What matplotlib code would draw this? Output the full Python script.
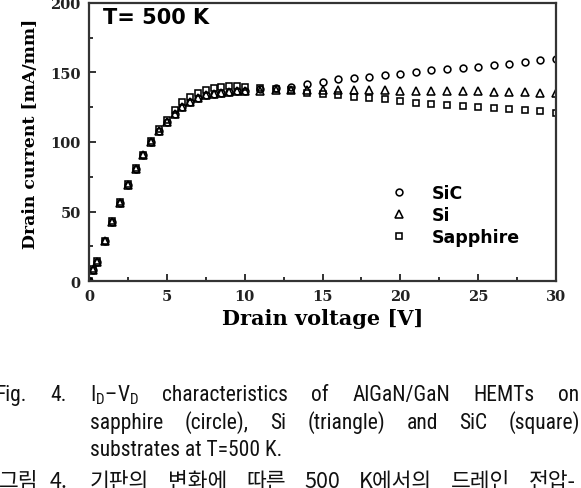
import matplotlib
matplotlib.use("Agg")
import matplotlib.pyplot as plt
from matplotlib import font_manager
from matplotlib.transforms import IdentityTransform

# ---------------- data ----------------
voltage = [0, 0.25, 0.5, 1.0, 1.5, 2.0, 2.5, 3.0, 3.5, 4.0, 4.5, 5.0, 5.5, 6.0,
           6.5, 7.0, 7.5, 8.0, 8.5, 9.0, 9.5, 10.0,
           11, 12, 13, 14, 15, 16, 17, 18, 19, 20, 21, 22, 23, 24, 25, 26, 27,
           28, 29, 30]
sic = [0, 8, 14, 28.5, 42.5, 56, 69, 80.5, 90.5, 100, 108, 114.5, 120.5, 125.5,
       129, 131.5, 133.5, 134.5, 135.5, 136, 136.5, 137,
       137.8, 138.5, 139.5, 141.5, 143, 145, 146, 147, 148, 149, 150.2, 151.5,
       152.7, 153.4, 154.2, 155.3, 156.4, 157.6, 158.7, 160]
si = [0, 8, 14, 28.5, 42.5, 56, 69, 80.5, 90.5, 100, 108, 114.5, 120.5, 125.5,
      129, 131.5, 133.5, 134.5, 135.5, 136, 136.5, 136.8,
      137, 137.2, 137.3, 137.5, 137.5, 137.3, 137.4, 137.3, 137.2, 137, 137,
      137, 136.8, 136.6, 136.4, 136.2, 136, 135.8, 135.6, 135.5]
sapphire = [0, 8.5, 14.5, 29, 43, 56.5, 69.5, 81, 91, 100.5, 109, 116, 123,
            128.5, 132.5, 135.5, 137.5, 139, 139.5, 140, 140, 139.5,
            138.5, 138, 137.5, 135.5, 134.5, 133.8, 132.7, 132, 130.7, 129.3,
            128.4, 127.6, 126.7, 126, 125.5, 124.3, 123.6, 122.8, 122.3, 121.2]
series_labels = ["SiC", "Si", "Sapphire"]
x_ticks = [0, 5, 10, 15, 20, 25, 30]
y_ticks = [0, 50, 100, 150, 200]
x_label = "Drain voltage [V]"
y_label = "Drain current [mA/mm]"
temp_label = "T= 500 K"

caption_line1 = [r"I$_{\mathrm{D}}$–V$_{\mathrm{D}}$", "characteristics", "of",
                 "AlGaN/GaN", "HEMTs", "on"]
caption_line2 = ["sapphire", "(circle),", "Si", "(triangle)", "and", "SiC",
                 "(square)"]
caption_line3 = "substrates at T=500 K."
caption_kr = ["기판의", "변화에", "따른", "500", "K에서의", "드레인", "전압-"]

# ---------------- fonts ----------------
names = {f.name for f in font_manager.fontManager.ttflist}
narrow = "Liberation Sans"
for cand in ["Liberation Sans Narrow", "Arial Narrow", "Roboto Condensed",
             "Open Sans Condensed", "Noto Sans Condensed"]:
    if cand in names:
        narrow = cand
        break
plt.rcParams["mathtext.fontset"] = "custom"
plt.rcParams["mathtext.rm"] = narrow
plt.rcParams["mathtext.it"] = narrow

W, H = 581, 489
fig = plt.figure(figsize=(W / 100, H / 100), dpi=100)
ax = fig.add_axes([89 / W, 1 - 282 / H, (556 - 89) / W, (282 - 4) / H])

mk = dict(linestyle="none", mfc="none", mec="black", mew=1.15)
ax.plot(voltage, sic, marker="o", ms=4.9, label=series_labels[0], **mk)
ax.plot(voltage, si, marker="^", ms=6.0, label=series_labels[1], **mk)
ax.plot(voltage, sapphire, marker="s", ms=4.5, label=series_labels[2], **mk)

ax.set_xlim(0, 30)
ax.set_ylim(0, 200)
ax.set_xticks(x_ticks)
ax.set_yticks(y_ticks)
ax.set_xticks([2.5, 7.5, 12.5, 17.5, 22.5, 27.5], minor=True)
ax.set_yticks([25, 75, 125, 175], minor=True)
ax.tick_params(which="both", direction="in", top=False, right=False,
               width=1.3, colors="#222222")
ax.tick_params(which="major", length=5, pad=6)
ax.tick_params(which="minor", length=3)
serif = "DejaVu Serif"
for lab in ax.get_xticklabels() + ax.get_yticklabels():
    lab.set_fontfamily(serif)
    lab.set_fontweight("bold")
    lab.set_fontsize(10.5)
for s in ax.spines.values():
    s.set_linewidth(1.6)
    s.set_color("#333333")

ax.set_xlabel(x_label, fontfamily=serif, fontweight="bold", fontsize=15, va="center")
ax.xaxis.set_label_coords(0.5, -0.133)
ax.set_ylabel(y_label, fontfamily=serif, fontweight="bold", fontsize=12.4, va="center")
ax.yaxis.set_label_coords(-0.126, 0.534)

ax.text(0.03, 0.928, temp_label, transform=ax.transAxes, fontfamily="DejaVu Sans",
        fontweight="bold", fontsize=15, va="baseline", ha="left")

leg = ax.legend(loc="upper left", bbox_to_anchor=((390 - 89) / 467, (282 - 185) / 278),
                frameon=False, prop={"family": "DejaVu Sans", "weight": "bold", "size": 12.5},
                handlelength=1.0, handletextpad=1.4, labelspacing=0.22,
                borderpad=0, borderaxespad=0)

# ---------------- caption ----------------
renderer = fig.canvas.get_renderer()
cap_kw = dict(fontfamily=narrow, fontsize=15.5, color="#111111")
idt = IdentityTransform()


def justify(words, ybase, x0, x1, **kw):
    texts = [fig.text(0, ybase, w, transform=idt, va="baseline", ha="left", **kw)
             for w in words]
    widths = [t.get_window_extent(renderer).width for t in texts]
    gap = (x1 - x0 - sum(widths)) / (len(words) - 1)
    x = x0
    for t, w in zip(texts, widths):
        t.set_x(x)
        x += w + gap


fig.text(27, H - 401.5, "Fig.", transform=idt, va="baseline", ha="right", **cap_kw)
fig.text(50, H - 401.5, "4.", transform=idt, va="baseline", ha="left", **cap_kw)
justify(caption_line1, H - 401.5, 90, 579, **cap_kw)
justify(caption_line2, H - 429, 90, 580.5, **cap_kw)
fig.text(90, H - 456, caption_line3, transform=idt, va="baseline", ha="left", **cap_kw)

kr_kw = dict(fontfamily=["Noto Sans CJK KR", "DejaVu Sans"], fontsize=15.5, color="#111111")
fig.text(-1, H - 488, "그림", transform=idt, va="baseline", ha="left", **kr_kw)
fig.text(50, H - 488, "4.", transform=idt, va="baseline", ha="left", **kr_kw)
justify(caption_kr, H - 488, 90, 576, **kr_kw)

fig.savefig("out.png", dpi=100)
